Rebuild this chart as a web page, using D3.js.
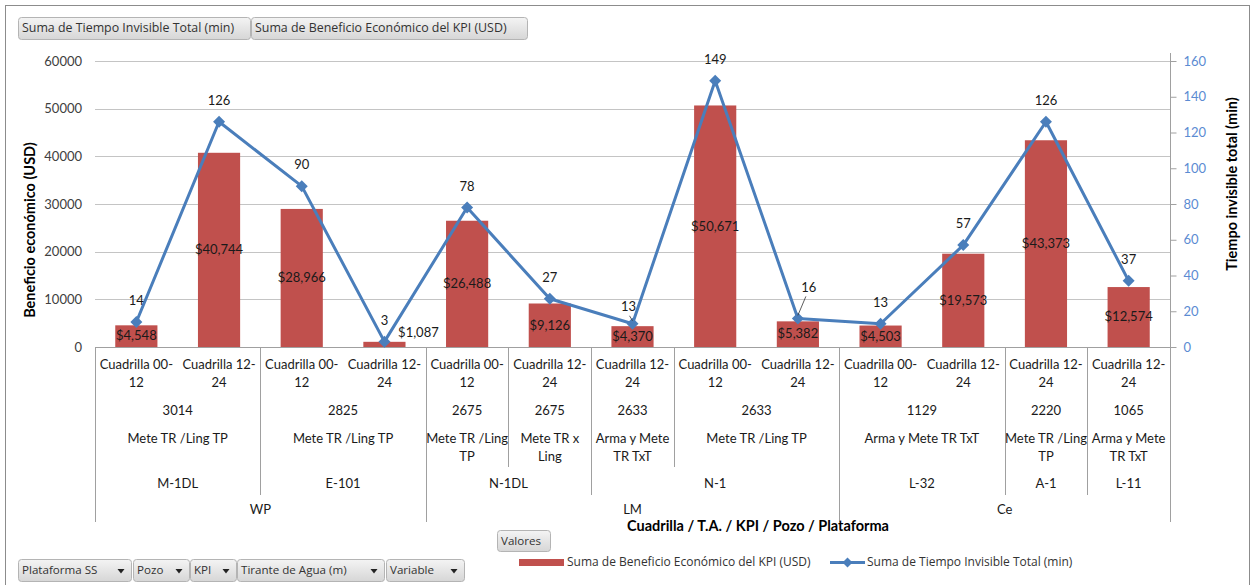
<!DOCTYPE html>
<html><head><meta charset="utf-8">
<script src="https://cdn.jsdelivr.net/npm/d3@7"></script>
<style>
html,body{margin:0;padding:0;background:#fff;}
svg{display:block;font-family:Lato,"Open Sans",sans-serif;}
</style></head>
<body><svg id="c" width="1251" height="585"></svg>
<script>
// ---- data ----
const cuadrilla = ["Cuadrilla 00-12","Cuadrilla 12-24","Cuadrilla 00-12","Cuadrilla 12-24","Cuadrilla 00-12","Cuadrilla 12-24","Cuadrilla 12-24","Cuadrilla 00-12","Cuadrilla 12-24","Cuadrilla 00-12","Cuadrilla 12-24","Cuadrilla 12-24","Cuadrilla 12-24"];
const tirante = ["3014","3014","2825","2825","2675","2675","2633","2633","2633","1129","1129","2220","1065"];
const kpi = ["Mete TR /Ling TP","Mete TR /Ling TP","Mete TR /Ling TP","Mete TR /Ling TP","Mete TR /Ling TP","Mete TR x Ling","Arma y Mete TR TxT","Mete TR /Ling TP","Mete TR /Ling TP","Arma y Mete TR TxT","Arma y Mete TR TxT","Mete TR /Ling TP","Arma y Mete TR TxT"];
const pozo = ["M-1DL","M-1DL","E-101","E-101","N-1DL","N-1DL","N-1","N-1","N-1","L-32","L-32","A-1","L-11"];
const plataforma = ["WP","WP","WP","WP","LM","LM","LM","LM","LM","Ce","Ce","Ce","Ce"];
const beneficio = [4548,40744,28966,1087,26488,9126,4370,50671,5382,4503,19573,43373,12574];
const tiempo = [14,126,90,3,78,27,13,149,16,13,57,126,37];
const leftTicks = [0,10000,20000,30000,40000,50000,60000];
const rightTicks = [0,20,40,60,80,100,120,140,160];
const seriesNames = ["Suma de Beneficio Económico del KPI (USD)","Suma de Tiempo Invisible Total (min)"];
const topButtons = ["Suma de Tiempo Invisible Total (min)","Suma de Beneficio Económico del KPI (USD)"];
const bottomButtons = ["Plataforma SS","Pozo","KPI","Tirante de Agua (m)","Variable"];

// ---- layout ----
const svg = d3.select("#c");
const L = 95, R = 1170, T = 61, B = 347;
const BAR = "#c0504d", LINE = "#4a7ebb", AXC = "#5b8bd2";
const UIF = "'Open Sans', Lato, sans-serif";
const n = beneficio.length;
const x = d3.scaleBand().domain(d3.range(n)).range([L, R]).padding(0);
const bw = x.bandwidth();
const y = d3.scaleLinear().domain([0, 60000]).range([B, T]);
const y2 = d3.scaleLinear().domain([0, 160]).range([B, T]);
const cx = i => x(i) + bw / 2;

// outer border
svg.append("rect").attr("x", 5.5).attr("y", 5.5).attr("width", 1244).attr("height", 620)
  .attr("fill", "none").attr("stroke", "#8c8c8c");

// button helper
const defs = svg.append("defs");
const g1 = defs.append("linearGradient").attr("id", "btn").attr("x1", 0).attr("y1", 0).attr("x2", 0).attr("y2", 1);
g1.append("stop").attr("offset", "0").attr("stop-color", "#f4f4f4");
g1.append("stop").attr("offset", "1").attr("stop-color", "#d6d6d6");
function button(x0, y0, w, h, label, arrow, fs) {
  const g = svg.append("g");
  g.append("rect").attr("x", x0 + 0.5).attr("y", y0 + 0.5).attr("width", w).attr("height", h)
    .attr("rx", 3).attr("fill", "url(#btn)").attr("stroke", "#b4b4b4");
  g.append("text").attr("x", x0 + 4).attr("y", y0 + h / 2 + 1).attr("dominant-baseline", "middle")
    .attr("font-family", UIF).attr("font-size", fs || 11.6).attr("fill", "#333").text(label);
  if (arrow) {
    const ax = x0 + w - 10, ay = y0 + h / 2 + 1;
    g.append("path").attr("d", `M${ax - 3.5},${ay - 2}L${ax + 3.5},${ay - 2}L${ax},${ay + 2.5}Z`).attr("fill", "#222");
  }
}
button(18, 17, 232, 22, topButtons[0], false, 12.4);
button(251, 17, 276, 22, topButtons[1], false, 12.4);
const bbx = [18, 133, 190, 237, 386], bbw = [113, 56, 46, 147, 78];
bottomButtons.forEach((b, i) => button(bbx[i], 559, bbw[i], 22, b, true));
button(497, 530, 53, 21, "Valores", false);

// gridlines
svg.append("g").selectAll("line").data(leftTicks).join("line")
  .attr("x1", L).attr("x2", R).attr("y1", d => Math.round(y(d)) + 0.5).attr("y2", d => Math.round(y(d)) + 0.5)
  .attr("stroke", "#c4c4c4").attr("stroke-width", 1.2);

// left axis
const la = svg.append("g").attr("transform", `translate(${L},0)`)
  .call(d3.axisLeft(y).tickValues(leftTicks).tickFormat(d3.format("d")).tickSize(0).tickPadding(13));
la.select(".domain").remove();
la.selectAll("text").attr("font-size", 13).attr("fill", "#404040").attr("font-family", "Lato");

// right axis
const ra = svg.append("g").attr("transform", `translate(${R + 0.5},0)`)
  .call(d3.axisRight(y2).tickValues(rightTicks).tickSize(6).tickPadding(7));
ra.select(".domain").attr("stroke", "#a0a0a0").attr("d", `M0,${T - 8}V${B}`);
ra.selectAll(".tick line").attr("stroke", "#a0a0a0");
ra.selectAll("text").attr("font-size", 13).attr("fill", AXC).attr("font-family", "Lato");

// bars
const barW = bw * 0.51;
svg.append("g").selectAll("rect").data(beneficio).join("rect")
  .attr("x", (d, i) => cx(i) - barW / 2).attr("width", barW)
  .attr("y", d => y(d)).attr("height", d => B - y(d)).attr("fill", BAR);

// baseline
svg.append("line").attr("x1", L).attr("x2", R).attr("y1", B + 0.5).attr("y2", B + 0.5).attr("stroke", "#a0a0a0");

// bar labels
const fmt = d3.format("$,");
const barNudge = {3: [34, -12]};
svg.append("g").selectAll("text").data(beneficio).join("text")
  .attr("x", (d, i) => cx(i) + (barNudge[i] ? barNudge[i][0] : 0))
  .attr("y", (d, i) => (y(d) + B) / 2 + (barNudge[i] ? barNudge[i][1] : 0) + 1)
  .attr("text-anchor", "middle").attr("dominant-baseline", "middle")
  .attr("font-size", 13).attr("fill", "#1a1a1a").text(d => fmt(d));

// line
const lineGen = d3.line().x((d, i) => cx(i)).y(d => y2(d));
svg.append("path").datum(tiempo).attr("d", lineGen).attr("fill", "none")
  .attr("stroke", LINE).attr("stroke-width", 3).attr("stroke-linejoin", "round");
svg.append("g").selectAll("path").data(tiempo).join("path")
  .attr("transform", (d, i) => `translate(${cx(i)},${y2(d)})`)
  .attr("d", "M0,-6L6,0L0,6L-6,0Z").attr("fill", LINE);

// line labels
const lineNudge = {6: [-4, -16, true], 8: [11, -30, true]};
tiempo.forEach((d, i) => {
  const nd = lineNudge[i] || [0, -20, false];
  const tx = cx(i) + nd[0], ty = y2(d) + nd[1];
  if (nd[2]) {
    svg.append("line").attr("x1", tx - (nd[0] > 0 ? 3 : -1)).attr("y1", ty + 8)
      .attr("x2", cx(i)).attr("y2", y2(d) - 3)
      .attr("stroke", "#333").attr("stroke-width", 0.8);
  }
  svg.append("text").attr("x", tx).attr("y", ty).attr("text-anchor", "middle")
    .attr("dominant-baseline", "middle").attr("font-size", 13).attr("fill", "#1a1a1a").text(d);
});

// category axis (multi-level)
const levels = [cuadrilla, tirante, kpi, pozo, plataforma];
const levelBottom = [395, 425, 467, 495, 522];
const ax = svg.append("g").attr("font-size", 13).attr("fill", "#1a1a1a");
function diffLevel(i) {
  let lv = -1;
  for (let k = levels.length - 1; k >= 0; k--) if (levels[k][i] !== levels[k][i - 1]) { lv = k; break; }
  return lv;
}
const divs = [{pos: L, bottom: levelBottom[4]}, {pos: R, bottom: levelBottom[4]}];
for (let i = 1; i < n; i++) {
  const lv = diffLevel(i);
  if (lv >= 2) divs.push({pos: x(i), bottom: levelBottom[lv]});
}
ax.selectAll("line").data(divs).join("line")
  .attr("x1", d => Math.round(d.pos) + 0.5).attr("x2", d => Math.round(d.pos) + 0.5)
  .attr("y1", B).attr("y2", d => d.bottom).attr("stroke", "#a0a0a0");

const rowY = [[366, 384], [412], [440, 458], [485], [511]];
function wrap(label, w) {
  const tokens = label.match(/[^ \-]+-|[^ \-]+ ?|-/g).map(s => s);
  const tmp = ax.append("text").attr("font-size", 13);
  const meas = s => { tmp.text(s.trim()); return tmp.node().getComputedTextLength(); };
  const lines = []; let cur = "";
  tokens.forEach(tk => {
    const t = cur + tk;
    if (meas(t) > w && cur) { lines.push(cur.trim()); cur = tk; } else cur = t;
  });
  if (cur) lines.push(cur.trim());
  tmp.remove();
  return lines;
}
levels.forEach((arr, lv) => {
  const groups = [];
  for (let i = 0; i < n; i++) {
    let same = i > 0 && arr[i] === arr[i - 1];
    for (let k = lv + 1; k < levels.length; k++) if (levels[k][i] !== levels[k][i - 1]) same = false;
    if (lv === 0) same = false;
    if (same) groups[groups.length - 1].end = i; else groups.push({label: arr[i], start: i, end: i});
  }
  groups.forEach(gr => {
    const x0 = x(gr.start), x1 = x(gr.end) + bw;
    const lines = wrap(gr.label, x1 - x0 + 1);
    lines.forEach((ln, j) => {
      ax.append("text").attr("x", (x0 + x1) / 2).attr("y", (rowY[lv][j] || rowY[lv][0] + 18 * j))
        .attr("text-anchor", "middle").attr("dominant-baseline", "middle").text(ln);
    });
  });
});

// axis titles
svg.append("text").attr("transform", "translate(31,230) rotate(-90)").attr("text-anchor", "middle")
  .attr("dominant-baseline", "middle").attr("font-size", 14.5).attr("font-weight", "bold").attr("fill", "#000")
  .text("Beneficio económico (USD)");
svg.append("text").attr("transform", "translate(1233,184) rotate(-90)").attr("text-anchor", "middle")
  .attr("dominant-baseline", "middle").attr("font-size", 14.5).attr("font-weight", "bold").attr("fill", "#000")
  .text("Tiempo invisible total (min)");
svg.append("text").attr("x", 758).attr("y", 527).attr("text-anchor", "middle")
  .attr("dominant-baseline", "middle").attr("font-size", 14.5).attr("font-weight", "bold").attr("fill", "#000")
  .text("Cuadrilla / T.A. / KPI / Pozo / Plataforma");

// legend
const lg = svg.append("g").attr("font-family", UIF).attr("font-size", 12).attr("fill", "#333");
lg.append("rect").attr("x", 519).attr("y", 559).attr("width", 45).attr("height", 7).attr("fill", BAR);
lg.append("text").attr("x", 567).attr("y", 563).attr("dominant-baseline", "middle").text(seriesNames[0]);
lg.append("line").attr("x1", 830).attr("x2", 865).attr("y1", 562.5).attr("y2", 562.5).attr("stroke", LINE).attr("stroke-width", 3);
lg.append("path").attr("transform", "translate(847.5,562.5)").attr("d", "M0,-5L5,0L0,5L-5,0Z").attr("fill", LINE);
lg.append("text").attr("x", 867).attr("y", 563).attr("dominant-baseline", "middle").text(seriesNames[1]);
</script></body></html>
